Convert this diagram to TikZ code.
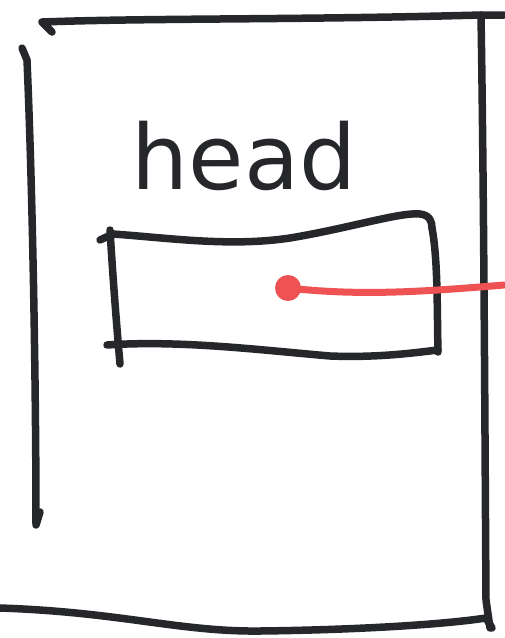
\documentclass[tikz,border=0pt]{standalone}
\usepackage{fontspec}
\newfontfamily\handfont{DejaVu Sans}
\definecolor{ink}{HTML}{26272B}
\definecolor{redink}{HTML}{EF5253}
\tikzset{
  pen/.style={draw=ink, line width=7.5pt, line cap=round, line join=round},
  redpen/.style={draw=redink, line width=7pt, line cap=round},
}
\begin{document}
\begin{tikzpicture}[x=1pt,y=-1pt]
\useasboundingbox (0,0) rectangle (504,638);
% outer frame
\draw[pen] (52,32) -- (42,22) .. controls (150,18) and (300,20) .. (481,15) -- (504,15);
\draw[pen] (481,15) .. controls (484,200) and (485,450) .. (486,600) -- (490,628);
\draw[pen] (22,48) -- (27,60) .. controls (33,200) and (36,400) .. (36,525) -- (40,512);
\draw[pen] (0,608) .. controls (120,612) and (180,632) .. (260,631) .. controls (350,630) and (440,625) .. (486,618) -- (492,628);
% inner box
\draw[pen] (100,240) -- (113,234) .. controls (170,238) and (230,247) .. (290,238) .. controls (350,228) and (400,212) .. (420,214) .. controls (430,215) and (432,222) .. (432,228);
\draw[pen] (110,230) .. controls (113,280) and (117,330) .. (120,364);
\draw[pen] (432,228) .. controls (438,260) and (437,310) .. (438,352);
\draw[pen] (107,345) .. controls (180,340) and (260,350) .. (330,356) .. controls (380,358) and (420,352) .. (438,350);
% text
\node[text=ink, font=\handfont\fontsize{90}{90}\selectfont, inner sep=0pt] (head) at (244,156) {head};
% red pointer
\coordinate (dot) at (288,288);
\coordinate (out) at (504,285);
\fill[redink] (dot) circle (13);
\draw[redpen] (dot) .. controls (360,296) and (420,292) .. (out);
\end{tikzpicture}
\end{document}
